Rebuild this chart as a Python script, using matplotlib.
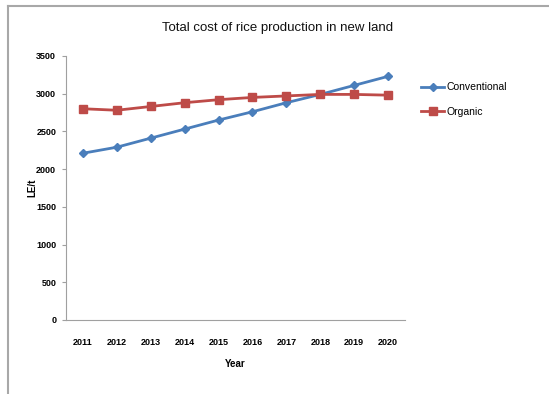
import matplotlib.pyplot as plt
from matplotlib.lines import Line2D

plt.rcParams['font.family'] = ['Liberation Sans Narrow', 'Liberation Sans', 'DejaVu Sans']

years = ['2011', '2012', '2013', '2014', '2015', '2016', '2017', '2018', '2019', '2020']
conventional = [2210, 2290, 2410, 2530, 2650, 2760, 2880, 2990, 3110, 3230]
organic = [2800, 2780, 2830, 2880, 2920, 2950, 2970, 2990, 2990, 2980]
yticks = [0, 500, 1000, 1500, 2000, 2500, 3000, 3500]

blue = '#4a7ebb'
red = '#be4b48'
axis_gray = '#a0a0a0'

fig = plt.figure(figsize=(5.49, 3.94), dpi=100)
ax = fig.add_axes([0.120, 0.188, 0.618, 0.670])

x = list(range(len(years)))
ax.plot(x, conventional, '-D', color=blue, lw=2, ms=4.5, label='Conventional')
ax.plot(x, organic, '-s', color=red, lw=2, ms=6, label='Organic')

ax.set_xlim(-0.5, len(years) - 0.5)
ax.set_ylim(0, 3500)
ax.set_xticks(x)
ax.set_xticklabels(years)
ax.set_yticks(yticks)

for lab in ax.get_xticklabels() + ax.get_yticklabels():
    lab.set_fontweight('bold')
    lab.set_fontsize(6.5)
ax.tick_params(axis='x', length=0, pad=13)
ax.tick_params(axis='y', length=3, color=axis_gray, pad=4)

for side in ['top', 'right']:
    ax.spines[side].set_visible(False)
for side in ['left', 'bottom']:
    ax.spines[side].set_color(axis_gray)
    ax.spines[side].set_linewidth(0.8)

ax.set_xlabel('Year', fontsize=7, fontweight='bold', labelpad=9)
ax.set_ylabel('LE/t', fontsize=7, fontweight='bold', labelpad=-1)
fig.text(0.505, 0.93, 'Total cost of rice production in new land',
         ha='center', va='center', fontsize=9.5, color='#111111')

ax.legend(loc='upper left', bbox_to_anchor=(1.02, 0.935), frameon=False,
          fontsize=7.5, handlelength=2.2, handletextpad=0.2, labelspacing=1.35)

# outer frame of the chart area (top and left edges)
fig.add_artist(Line2D([7.5 / 549, 7.5 / 549], [0, 1 - 5.5 / 394], color='#a8a8a8', lw=1.5))
fig.add_artist(Line2D([7.5 / 549, 1], [1 - 5.5 / 394, 1 - 5.5 / 394], color='#a8a8a8', lw=1.5))

fig.savefig('out.png', dpi=100)
